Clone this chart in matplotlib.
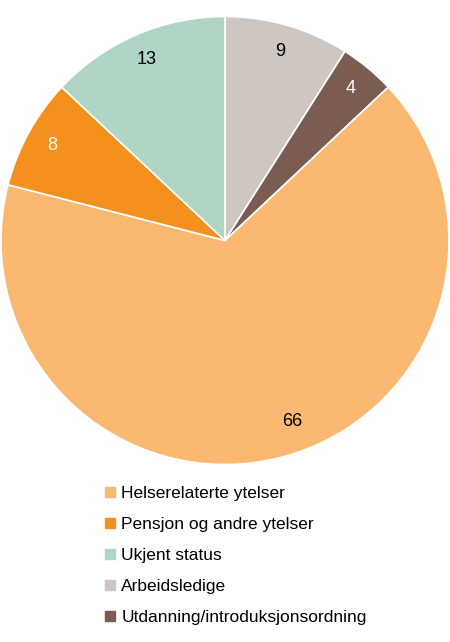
import numpy as np
import matplotlib.pyplot as plt
from matplotlib.lines import Line2D

plt.rcParams['font.family'] = ['Liberation Sans', 'DejaVu Sans']

# slices in drawing order, clockwise from 12 o'clock
labels = ['Arbeidsledige', 'Utdanning/introduksjonsordning', 'Helserelaterte ytelser',
          'Pensjon og andre ytelser', 'Ukjent status']
values = [9, 4, 66, 8, 13]
colors = ['#CDC6C1', '#7B5C50', '#FBB871', '#F4901E', '#B0D5C4']
text_colors = ['black', 'white', 'black', 'white', 'black']

legend_order = ['Helserelaterte ytelser', 'Pensjon og andre ytelser', 'Ukjent status',
                'Arbeidsledige', 'Utdanning/introduksjonsordning']

fig = plt.figure(figsize=(4.5, 6.42), dpi=100)
ax = fig.add_axes([1 / 450, (642 - 465) / 642, 448 / 450, 449 / 642])

wedges, texts = ax.pie(values, colors=colors, startangle=90, counterclock=False,
                       labels=[str(v) for v in values], labeldistance=0.88,
                       wedgeprops=dict(edgecolor='white', linewidth=1.2),
                       textprops=dict(fontsize=13))
for t, c in zip(texts, text_colors):
    t.set_color(c)
    t.set_horizontalalignment('center')
    t.set_verticalalignment('center')

# the big slice label sits a bit off its mid-angle in the original
w = wedges[2]
ang = np.deg2rad((w.theta1 + w.theta2) / 2 + 6)
texts[2].set_position((0.86 * np.cos(ang), 0.86 * np.sin(ang)))

ax.set_xlim(-1, 1)
ax.set_ylim(-1, 1)
ax.set_aspect('equal')

handles = [Line2D([], [], marker='s', linestyle='none', markersize=6.5,
                  color=colors[labels.index(n)]) for n in legend_order]
fig.legend(handles, legend_order, loc='upper left', bbox_to_anchor=(97 / 450, 1 - 479 / 642),
           frameon=False, fontsize=12.5, handlelength=0.7, handletextpad=0.3,
           labelspacing=0.91, borderaxespad=0)

fig.savefig('out.png', dpi=100)
